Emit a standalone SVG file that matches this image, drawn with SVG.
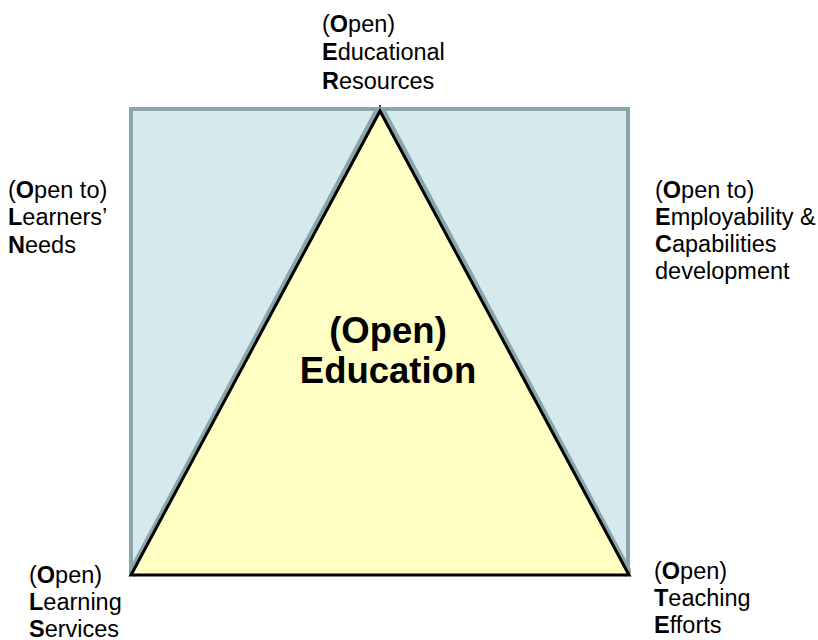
<svg xmlns="http://www.w3.org/2000/svg" width="818" height="640" viewBox="0 0 818 640">
  <style>
    .lbl { font-family: "Liberation Sans", Arial, sans-serif; font-size: 23.5px; fill: #000; }
    .lbl tspan.b { font-weight: bold; }
    .title { font-family: "Liberation Sans", Arial, sans-serif; font-size: 36.5px; font-weight: bold; fill: #000; }
    .side { fill: #d6eaee; stroke: #8aa6aa; stroke-width: 4; stroke-linejoin: miter; }
    .shade { stroke: #8aa6aa; stroke-width: 9; fill: none; }
    .core { fill: #ffffc4; stroke: #000; stroke-width: 3; stroke-linejoin: miter; }
  </style>
  <defs>
    <clipPath id="sq"><rect x="129" y="107" width="502" height="470"/></clipPath>
  </defs>
  <rect width="818" height="640" fill="#fff"/>

  <!-- outer square made of the two side regions -->
  <g id="frame">
    <polygon class="side" points="131,109 380,109 131,575"/>
    <polygon class="side" points="380,109 628,109 628,575"/>
    <g clip-path="url(#sq)">
      <line class="shade" x1="380" y1="109" x2="131" y2="575"/>
      <line class="shade" x1="380" y1="109" x2="629" y2="575"/>
    </g>
  </g>

  <!-- central triangle -->
  <g id="education">
    <polygon class="core" points="380,111 629,575 131,575"/>
    <circle cx="380" cy="106" r="1" fill="#000"/>
    <text class="title" text-anchor="middle"><tspan x="388" y="343">(Open)</tspan><tspan x="388" y="383">Education</tspan></text>
  </g>

  <g id="resources">
    <text class="lbl"><tspan x="322" y="32">(<tspan class="b">O</tspan>pen)</tspan><tspan x="322" y="60"><tspan class="b">E</tspan>ducational</tspan><tspan x="322" y="89"><tspan class="b">R</tspan>esources</tspan></text>
  </g>

  <g id="learners-needs">
    <text class="lbl"><tspan x="8" y="198">(<tspan class="b">O</tspan>pen to)</tspan><tspan x="8" y="225"><tspan class="b">L</tspan>earners’</tspan><tspan x="8" y="253"><tspan class="b">N</tspan>eeds</tspan></text>
  </g>

  <g id="employability">
    <text class="lbl"><tspan x="655" y="198">(<tspan class="b">O</tspan>pen to)</tspan><tspan x="655" y="225"><tspan class="b">E</tspan>mployability &amp;</tspan><tspan x="655" y="252"><tspan class="b">C</tspan>apabilities</tspan><tspan x="655" y="279">development</tspan></text>
  </g>

  <g id="learning-services">
    <text class="lbl"><tspan x="29" y="583">(<tspan class="b">O</tspan>pen)</tspan><tspan x="29" y="610"><tspan class="b">L</tspan>earning</tspan><tspan x="29" y="637"><tspan class="b">S</tspan>ervices</tspan></text>
  </g>

  <g id="teaching-efforts">
    <text class="lbl"><tspan x="654" y="579">(<tspan class="b">O</tspan>pen)</tspan><tspan x="654" y="606"><tspan class="b">T</tspan>eaching</tspan><tspan x="654" y="633"><tspan class="b">E</tspan>fforts</tspan></text>
  </g>
</svg>
